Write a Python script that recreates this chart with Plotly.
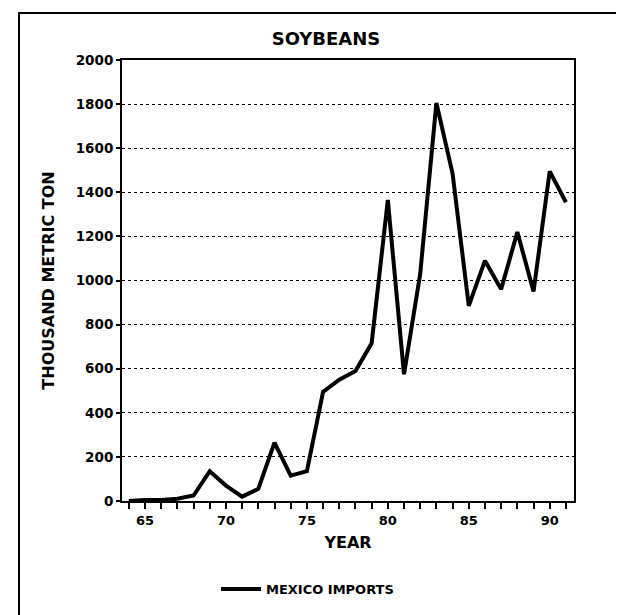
import plotly.graph_objects as go

years = list(range(64, 92))
mexico_imports = [0, 5, 5, 10, 25, 135, 70, 20, 55, 265, 115, 135, 495, 550,
                  590, 715, 1365, 575, 1030, 1805, 1485, 885, 1090, 960, 1220,
                  950, 1495, 1355]
y_ticks = list(range(0, 2001, 200))
x_tick_vals = [65, 70, 75, 80, 85, 90]
x_tick_text = ["65", "70", "75", "80", "85", "90"]

FONT = "DejaVu Sans"

fig = go.Figure()
fig.add_trace(go.Scatter(
    x=years, y=mexico_imports, mode="lines", name="MEXICO IMPORTS",
    line=dict(color="black", width=4),
))

W, H = 624, 615
L, R, T, B = 114, 58, 52, 122
pw, ph = W - L - R, H - T - B

def px2paper(px, py):
    return (px - L) / pw, (H - B - py) / ph

x0, y0 = px2paper(11, 5)
x1, y1 = px2paper(622, 640)
fig.add_shape(type="rect", xref="paper", yref="paper", x0=x0, y0=y1, x1=x1, y1=y0,
              line=dict(color="black", width=2), layer="below")

fig.update_layout(
    width=W, height=H,
    margin=dict(l=L, r=R, t=T, b=B),
    paper_bgcolor="white", plot_bgcolor="white",
    font=dict(family=FONT, color="black"),
    title=dict(text="<b>SOYBEANS</b>", x=318 / W, xanchor="center",
               y=1 - 31 / H, yanchor="middle",
               font=dict(family=FONT, size=18, color="black")),
    showlegend=True,
    legend=dict(orientation="h", x=(208 - L) / pw, xanchor="left",
                y=px2paper(0, 581)[1], yanchor="middle",
                font=dict(family=FONT, size=13, color="black", weight="bold"),
                bgcolor="rgba(0,0,0,0)", itemwidth=40),
)

fig.update_xaxes(
    range=[63.58, 91.5],
    tickmode="array", tickvals=x_tick_vals, ticktext=x_tick_text,
    tickfont=dict(family=FONT, size=13, color="black", weight="bold"),
    ticks="outside", ticklen=6, tickwidth=1.5, tickcolor="black",
    minor=dict(dtick=1, tick0=64, ticks="outside", ticklen=6, tickwidth=1.5,
               tickcolor="black", showgrid=False),
    showline=True, linecolor="black", linewidth=2, mirror=True,
    showgrid=False, zeroline=False,
    title=dict(text="<b>YEAR</b>", standoff=10,
               font=dict(family=FONT, size=16, color="black")),
)

fig.update_yaxes(
    range=[0, 2000],
    tickmode="array", tickvals=y_ticks,
    tickfont=dict(family=FONT, size=13.5, color="black", weight="bold"),
    ticks="outside", ticklen=4, tickwidth=1.5, tickcolor="black",
    showline=True, linecolor="black", linewidth=2, mirror=True,
    showgrid=True, gridcolor="black", gridwidth=1.2, griddash="dot",
    zeroline=False,
    title=dict(text="<b>THOUSAND METRIC TON</b>", standoff=17,
               font=dict(family=FONT, size=16, color="black")),
)

fig.write_html("out.html")
